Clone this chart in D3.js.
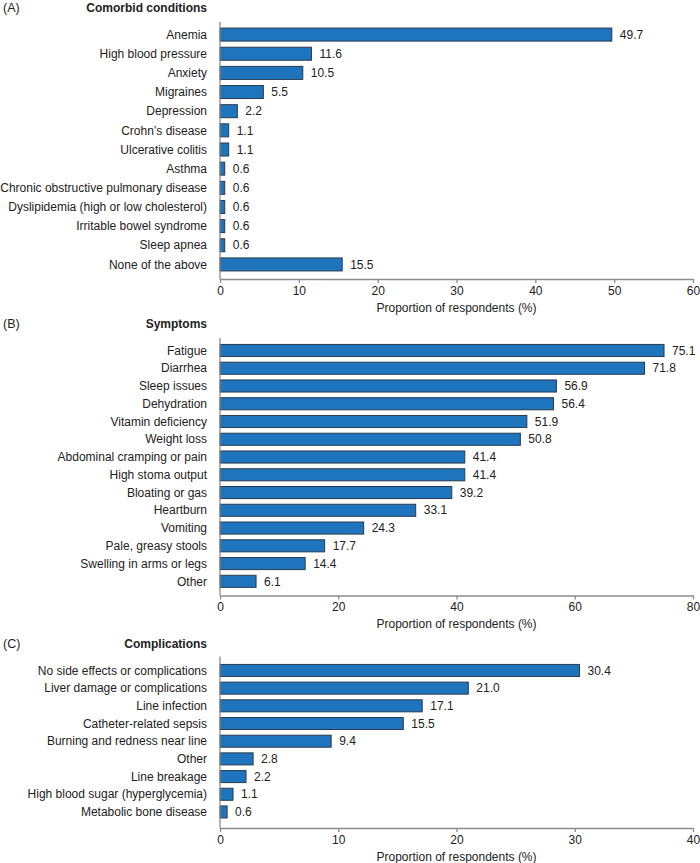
<!DOCTYPE html>
<html>
<head>
<meta charset="utf-8">
<script src="https://cdn.jsdelivr.net/npm/d3@7"></script>
<style>
  html, body { margin: 0; padding: 0; background: #fff; }
  svg { display: block; font-family: "Liberation Sans", Arial, Helvetica, sans-serif; }
</style>
</head>
<body>
<svg id="chart" width="700" height="863"></svg>
<script>
// ---- Data ----
const comorbidCategories = ["Anemia", "High blood pressure", "Anxiety", "Migraines", "Depression",
  "Crohn\u2019s disease", "Ulcerative colitis", "Asthma", "Chronic obstructive pulmonary disease",
  "Dyslipidemia (high or low cholesterol)", "Irritable bowel syndrome", "Sleep apnea", "None of the above"];
const comorbidValues = [49.7, 11.6, 10.5, 5.5, 2.2, 1.1, 1.1, 0.6, 0.6, 0.6, 0.6, 0.6, 15.5];
const comorbidTicks = [0, 10, 20, 30, 40, 50, 60];

const symptomCategories = ["Fatigue", "Diarrhea", "Sleep issues", "Dehydration", "Vitamin deficiency",
  "Weight loss", "Abdominal cramping or pain", "High stoma output", "Bloating or gas", "Heartburn",
  "Vomiting", "Pale, greasy stools", "Swelling in arms or legs", "Other"];
const symptomValues = [75.1, 71.8, 56.9, 56.4, 51.9, 50.8, 41.4, 41.4, 39.2, 33.1, 24.3, 17.7, 14.4, 6.1];
const symptomTicks = [0, 20, 40, 60, 80];

const complicationCategories = ["No side effects or complications", "Liver damage or complications",
  "Line infection", "Catheter-related sepsis", "Burning and redness near line", "Other",
  "Line breakage", "High blood sugar (hyperglycemia)", "Metabolic bone disease"];
const complicationValues = [30.4, 21.0, 17.1, 15.5, 9.4, 2.8, 2.2, 1.1, 0.6];
const complicationTicks = [0, 10, 20, 30, 40];

const axisTitle = "Proportion of respondents (%)";

// ---- Drawing ----
const svg = d3.select("#chart");
const x0 = 220, x1 = 693;
const barFill = "#1e74bd", barStroke = "#2a3b4d", axisColor = "#8c8c8c", textColor = "#222";

function panel(opt) {
  const g = svg.append("g");
  const x = d3.scaleLinear().domain([0, d3.max(opt.ticks)]).range([x0, x1]);
  const y = d3.scaleBand().domain(opt.categories).range([opt.bandTop, opt.bandBottom]).paddingInner(0.32).paddingOuter(0.16);

  // Panel letter & title
  g.append("text").attr("x", 3).attr("y", opt.titleY).attr("dy", "0.35em")
    .attr("font-size", 12.5).attr("fill", textColor).text(opt.letter);
  g.append("text").attr("x", 207).attr("y", opt.titleY).attr("dy", "0.35em")
    .attr("text-anchor", "end").attr("font-size", 12).attr("font-weight", "bold")
    .attr("fill", textColor).text(opt.title);

  // Bars
  const data = opt.categories.map((c, i) => ({ c, v: opt.values[i] }));
  g.selectAll("rect.bar").data(data).join("rect")
    .attr("class", "bar")
    .attr("x", x(0)).attr("y", d => y(d.c))
    .attr("width", d => x(d.v) - x(0)).attr("height", y.bandwidth())
    .attr("fill", barFill).attr("stroke", barStroke).attr("stroke-width", 1);

  // Value labels
  g.selectAll("text.val").data(data).join("text")
    .attr("class", "val")
    .attr("x", d => x(d.v) + 8).attr("y", d => y(d.c) + y.bandwidth() / 2).attr("dy", "0.35em")
    .attr("font-size", 12).attr("fill", textColor)
    .text(d => d3.format(".1f")(d.v));

  // Category labels
  g.selectAll("text.cat").data(data).join("text")
    .attr("class", "cat")
    .attr("x", 207).attr("y", d => y(d.c) + y.bandwidth() / 2).attr("dy", "0.35em")
    .attr("text-anchor", "end").attr("font-size", 12).attr("fill", textColor)
    .text(d => d.c);

  // Y axis line
  g.append("line").attr("x1", x0).attr("x2", x0).attr("y1", opt.axisTop).attr("y2", opt.axisBottom)
    .attr("stroke", axisColor).attr("stroke-width", 1.3);

  // X axis
  const ax = g.append("g").attr("transform", `translate(0,${opt.axisBottom})`)
    .call(d3.axisBottom(x).tickValues(opt.ticks).tickSize(4).tickSizeOuter(0).tickPadding(3));
  ax.select(".domain").attr("stroke", axisColor).attr("stroke-width", 1.3);
  ax.selectAll(".tick line").attr("stroke", axisColor).attr("stroke-width", 1.3);
  ax.selectAll(".tick text").attr("font-size", 12).attr("fill", textColor)
    .attr("font-family", "Liberation Sans, Arial, sans-serif");

  g.append("text").attr("x", (x0 + x1) / 2).attr("y", opt.axisTitleY).attr("dy", "0.35em")
    .attr("text-anchor", "middle").attr("font-size", 12).attr("fill", textColor).text(axisTitle);
}

panel({ letter: "(A)", title: "Comorbid conditions", categories: comorbidCategories, values: comorbidValues,
  ticks: comorbidTicks, titleY: 8, bandTop: 25, bandBottom: 274, axisTop: 22, axisBottom: 279, axisTitleY: 308 });
panel({ letter: "(B)", title: "Symptoms", categories: symptomCategories, values: symptomValues,
  ticks: symptomTicks, titleY: 324, bandTop: 341.6, bandBottom: 590.2, axisTop: 338, axisBottom: 595.5, axisTitleY: 624 });
panel({ letter: "(C)", title: "Complications", categories: complicationCategories, values: complicationValues,
  ticks: complicationTicks, titleY: 644, bandTop: 661.6, bandBottom: 820.8, axisTop: 656.5, axisBottom: 828, axisTitleY: 857 });
</script>
</body>
</html>
